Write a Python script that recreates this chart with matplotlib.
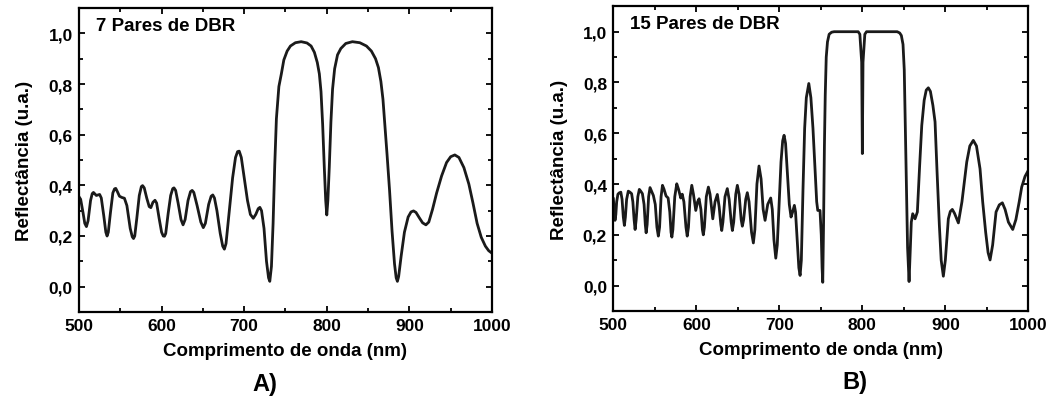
import matplotlib.pyplot as plt
from matplotlib.ticker import MultipleLocator, FuncFormatter

# painel A: 7 pares de DBR
wl_a = [500, 502, 505, 507, 509, 511, 514, 516, 517.5, 519.5, 521, 523, 525, 527, 530,
        532.5, 534, 535.5, 538, 541, 543, 544.5, 546.5, 549, 552, 555, 558, 562, 564.5, 566,
        567.5, 570, 573, 575.5, 577, 579, 582, 585, 587, 589.5, 592, 594, 597, 600, 602,
        603.5, 605, 608, 611, 613.5, 615, 617, 620, 623.5, 626, 628.5, 632, 635, 637, 639,
        643, 647.5, 650.5, 653, 657, 660, 662, 664, 667, 671, 674, 676, 678, 682, 686,
        689.5, 692, 694, 696.5, 700, 704, 707.5, 711, 714, 717, 719, 721, 724, 727, 729.5,
        731, 733, 735, 737, 739, 742, 745, 748, 752, 756, 762, 769, 776, 781, 785,
        788.5, 791, 793, 795, 797, 798.7, 800, 801.3, 803, 805, 807, 809.5, 813, 817, 823,
        831, 840, 848, 854, 859, 862.5, 865.5, 868, 870.5, 873, 876, 879, 882, 884, 885.5,
        887, 890, 894, 898.5, 902, 905, 908, 912, 916, 920, 923.5, 928, 933, 939, 945,
        950, 955, 960, 966, 972, 977, 982, 987, 992, 996, 1000]
r_a = [0.355, 0.345, 0.29, 0.25, 0.237, 0.26, 0.34, 0.367, 0.372, 0.365, 0.36, 0.362, 0.364, 0.35, 0.28,
       0.215, 0.20, 0.215, 0.29, 0.37, 0.386, 0.388, 0.375, 0.357, 0.352, 0.349, 0.32, 0.23, 0.197, 0.19,
       0.20, 0.27, 0.36, 0.395, 0.399, 0.39, 0.35, 0.316, 0.312, 0.333, 0.341, 0.33, 0.27, 0.215, 0.20,
       0.199, 0.21, 0.29, 0.36, 0.387, 0.39, 0.38, 0.33, 0.265, 0.244, 0.265, 0.34, 0.375, 0.38, 0.372,
       0.32, 0.255, 0.233, 0.25, 0.325, 0.357, 0.362, 0.35, 0.30, 0.21, 0.16, 0.148, 0.17, 0.30, 0.43,
       0.51, 0.533, 0.535, 0.51, 0.43, 0.34, 0.285, 0.27, 0.285, 0.308, 0.313, 0.30, 0.23, 0.10, 0.035,
       0.021, 0.08, 0.25, 0.48, 0.663, 0.79, 0.84, 0.895, 0.93, 0.95, 0.963, 0.967, 0.962, 0.95, 0.925,
       0.885, 0.84, 0.77, 0.64, 0.47, 0.34, 0.283, 0.34, 0.47, 0.65, 0.78, 0.86, 0.915, 0.94, 0.96,
       0.967, 0.963, 0.95, 0.93, 0.90, 0.865, 0.81, 0.74, 0.63, 0.52, 0.38, 0.22, 0.09, 0.035, 0.021,
       0.04, 0.12, 0.215, 0.275, 0.295, 0.299, 0.293, 0.272, 0.252, 0.244, 0.255, 0.305, 0.37, 0.437, 0.49,
       0.513, 0.52, 0.51, 0.47, 0.405, 0.33, 0.25, 0.195, 0.16, 0.142, 0.132]

# painel B: 15 pares de DBR
wl_b = [500, 501, 502, 503, 504, 505.5, 507, 509, 510.5, 512, 513.3, 514.5, 516, 518, 520,
        522, 523.5, 525, 526.2, 527.5, 529.5, 531.3, 533, 535, 537, 538.5, 539.5, 540.7, 542.5, 544.2,
        546, 548.2, 550.5, 552.5, 554.2, 555.7, 557.5, 559.2, 561, 563.5, 566, 568, 569.5, 570.5, 571.7,
        574, 576.4, 578.5, 581.2, 583, 585, 587.5, 589, 590.5, 592.5, 594.5, 596.5, 599.3, 601.5, 603.3,
        605.5, 607.3, 608.4, 609.7, 612, 614.5, 616.5, 619.8, 622.5, 625.3, 627.5, 629.5, 630.6, 632, 634.5,
        637.3, 639.5, 642, 643.4, 645, 647.5, 649.4, 651.5, 654, 655.4, 657, 659.5, 661.4, 663.5, 666.5,
        668.7, 670.5, 673, 675.5, 678, 680.5, 682.8, 686, 689.6, 691.5, 693.5, 695.7, 697.5, 700, 702,
        704, 705.7, 707.5, 710, 712, 714.1, 716, 718.1, 719.5, 721.5, 723.5, 725, 726.5, 728.5, 730.5,
        732.5, 735.5, 738, 740.5, 743, 745, 746.3, 749, 750.5, 751.5, 752.3, 753.3, 754.3, 755.3, 756.5,
        758, 760, 763, 766, 795, 797, 799.2, 800, 800.8, 803, 805, 842, 845, 847, 849,
        850.5, 851.5, 853, 854.5, 856.3, 857.5, 859, 860.7, 863.5, 866.3, 869, 871.6, 874.5, 877, 879.5,
        882, 885, 887.6, 890, 892.8, 895, 897.6, 900, 903.6, 906, 908.4, 911, 915.7, 920, 925.8,
        929.5, 933.7, 937.5, 941.8, 945, 948.6, 951.5, 953.9, 957, 961.1, 965, 968.7, 972, 976, 981.2,
        985, 989, 992, 996, 1000]
r_b = [0.342, 0.30, 0.257, 0.28, 0.33, 0.36, 0.365, 0.368, 0.34, 0.27, 0.237, 0.27, 0.34, 0.372, 0.368,
       0.362, 0.33, 0.26, 0.221, 0.26, 0.35, 0.379, 0.372, 0.362, 0.32, 0.24, 0.208, 0.24, 0.35, 0.386,
       0.372, 0.355, 0.32, 0.23, 0.195, 0.23, 0.35, 0.395, 0.38, 0.353, 0.345, 0.29, 0.21, 0.191, 0.22,
       0.35, 0.401, 0.38, 0.345, 0.36, 0.33, 0.23, 0.195, 0.23, 0.35, 0.395, 0.36, 0.296, 0.33, 0.342,
       0.30, 0.22, 0.200, 0.23, 0.35, 0.388, 0.36, 0.263, 0.33, 0.359, 0.31, 0.24, 0.217, 0.25, 0.35,
       0.382, 0.34, 0.25, 0.217, 0.25, 0.36, 0.395, 0.36, 0.26, 0.234, 0.26, 0.34, 0.366, 0.33, 0.21,
       0.168, 0.22, 0.40, 0.471, 0.42, 0.30, 0.257, 0.32, 0.345, 0.30, 0.18, 0.108, 0.16, 0.34, 0.487,
       0.57, 0.592, 0.56, 0.43, 0.32, 0.27, 0.29, 0.316, 0.29, 0.18, 0.07, 0.04, 0.10, 0.38, 0.62,
       0.74, 0.796, 0.74, 0.62, 0.46, 0.33, 0.296, 0.296, 0.2, 0.07, 0.013, 0.25, 0.55, 0.75, 0.9,
       0.96, 0.99, 0.998, 1.0, 1.0, 0.99, 0.88, 0.52, 0.88, 0.99, 1.0, 1.0, 0.995, 0.985, 0.95,
       0.85, 0.67, 0.40, 0.15, 0.016, 0.12, 0.25, 0.283, 0.263, 0.29, 0.47, 0.631, 0.73, 0.77, 0.779,
       0.765, 0.71, 0.645, 0.45, 0.237, 0.10, 0.037, 0.10, 0.263, 0.292, 0.300, 0.285, 0.247, 0.33, 0.487,
       0.55, 0.572, 0.55, 0.46, 0.33, 0.21, 0.13, 0.101, 0.16, 0.29, 0.318, 0.326, 0.30, 0.25, 0.221,
       0.26, 0.33, 0.388, 0.43, 0.454]

plt.rcParams['font.family'] = 'Liberation Sans'
plt.rcParams['font.weight'] = 'bold'

fig = plt.figure(figsize=(10.49, 4.02), dpi=100)
ax1 = fig.add_axes([0.0753, 0.2214, 0.3937, 0.7562])
ax2 = fig.add_axes([0.5847, 0.2239, 0.3956, 0.7579])

virgula = FuncFormatter(lambda v, p: ('%.1f' % v).replace('.', ','))

for ax, wl, r, titulo in [(ax1, wl_a, r_a, '7 Pares de DBR'),
                          (ax2, wl_b, r_b, '15 Pares de DBR')]:
    ax.plot(wl, r, color='#1a1a1a', lw=2.0, solid_joinstyle='round')
    ax.set_xlim(500, 1000)
    ax.set_ylim(-0.1, 1.1)
    ax.xaxis.set_major_locator(MultipleLocator(100))
    ax.xaxis.set_minor_locator(MultipleLocator(50))
    ax.yaxis.set_major_locator(MultipleLocator(0.2))
    ax.yaxis.set_minor_locator(MultipleLocator(0.1))
    ax.yaxis.set_major_formatter(virgula)
    ax.tick_params(which='both', direction='in', top=True, right=True,
                   labelsize=12.5, width=1.3, pad=4.5)
    ax.tick_params(which='major', length=4)
    ax.tick_params(which='minor', length=3)
    for s in ax.spines.values():
        s.set_linewidth(1.6)
    ax.set_xlabel('Comprimento de onda (nm)', fontsize=13.5, fontweight='bold', labelpad=6)
    ax.set_ylabel('Reflectância (u.a.)', fontsize=13.5, fontweight='bold', labelpad=11)
    ax.text(0.04, 0.97, titulo, transform=ax.transAxes, fontsize=13.5,
            fontweight='bold', va='top', ha='left')

fig.text(265 / 1049, 1 - 385 / 402, 'A)', fontsize=17, fontweight='bold', ha='center', va='center')
fig.text(855 / 1049, 1 - 383 / 402, 'B)', fontsize=17, fontweight='bold', ha='center', va='center')

fig.savefig('out.png', dpi=100)
